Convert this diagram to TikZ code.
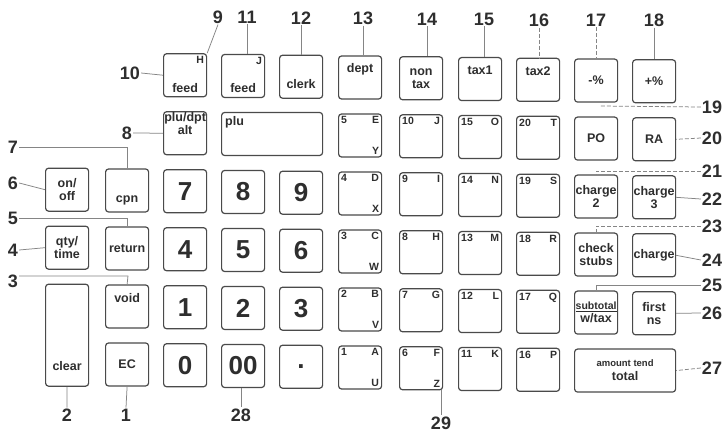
\documentclass[tikz,border=0pt]{standalone}
\usepackage{fontspec}
\setmainfont{Liberation Sans}
\definecolor{keyc}{HTML}{4A4A4A}
\definecolor{txt}{HTML}{2E2E2E}
\definecolor{leadc}{HTML}{858585}
\newcommand\keyfnt{\fontsize{12.5}{13}\selectfont\bfseries}
\newcommand\digfnt{\fontsize{26}{26}\selectfont\bfseries}
\newcommand\numfnt{\fontsize{18}{18}\selectfont\bfseries}
\newcommand\labfnt{\fontsize{10.5}{11}\selectfont\bfseries}
\tikzset{
  key/.style={draw=keyc, line width=1.2pt, rounded corners=3pt, minimum width=43pt,
    minimum height=43pt, inner sep=0pt, anchor=north west, font=\keyfnt, text=txt, align=center},
  dig/.style={key, font=\digfnt},
  lab/.style={font=\labfnt, text=txt, inner sep=3pt},
  kl/.style={font=\keyfnt, text=txt, inner sep=0pt},
  num/.style={font=\numfnt, text=txt, inner sep=1pt},
  lead/.style={draw=leadc, line width=0.75pt},
  leadd/.style={lead, dash pattern=on 4pt off 2pt},
  deptkey/.style n args={3}{key,
    label={[lab,anchor=north west]north west:#1},
    label={[lab,anchor=north east]north east:#2},
    label={[lab,anchor=south east]south east:#3}}
}
\begin{document}
\begin{tikzpicture}[x=1pt,y=-1pt]
\fill[white] (0,0) rectangle (726,437);
\useasboundingbox (0,0) rectangle (726,437);
\begin{scope}[yslant=-0.013]
% row 0
\node[key,label={[lab,anchor=north east]north east:H},label={[kl,anchor=south,inner sep=5pt]south:feed}] (hfeed) at (163,51) {};
\node[key,label={[lab,anchor=north east]north east:J},label={[kl,anchor=south,inner sep=5pt]south:feed}] (jfeed) at (221,51) {};
\node[key,label={[kl,anchor=south,inner sep=10pt]south:clerk}] (clerk) at (279,51) {};
\node[key] (dept) at (338,51) {dept\\[6pt]};
\node[key] (nontax) at (399,51) {non\\tax};
\node[key] (tax1) at (458,51) {tax1\\[4pt]};
\node[key] (tax2) at (516,51) {tax2\\[4pt]};
\node[key] (minus) at (574,51) {-\%};
\node[key] (plus) at (632,51) {+\%};
% row 1
\node[key] (plualt) at (163,109) {plu/dpt\\alt\\[6pt]};
\node[key,minimum width=101pt,label={[kl,anchor=north west,inner sep=4pt]north west:plu}] (plu) at (221,109) {};
\node[deptkey={5}{E}{Y}] (d5) at (338,109) {};
\node[deptkey={10}{J}{}] (d10) at (399,109) {};
\node[deptkey={15}{O}{}] (d15) at (458,109) {};
\node[deptkey={20}{T}{}] (d20) at (516,109) {};
\node[key] (po) at (574,109) {PO};
\node[key] (ra) at (632,109) {RA};
% row 2
\node[key] (onoff) at (45,167) {on/\\off};
\node[key,label={[kl,anchor=south,inner sep=7pt]south:cpn}] (cpn) at (105,167) {};
\node[dig] (k7) at (163,167) {7};
\node[dig] (k8) at (221,167) {8};
\node[dig] (k9) at (279,167) {9};
\node[deptkey={4}{D}{X}] (d4) at (338,167) {};
\node[deptkey={9}{I}{}] (d9) at (399,167) {};
\node[deptkey={14}{N}{}] (d14) at (458,167) {};
\node[deptkey={19}{S}{}] (d19) at (516,167) {};
\node[key] (ch2) at (574,167) {charge\\2};
\node[key] (ch3) at (632,167) {charge\\3};
% row 3
\node[key] (qty) at (45,225) {qty/\\time};
\node[key] (ret) at (105,225) {return};
\node[dig] (k4) at (163,225) {4};
\node[dig] (k5) at (221,225) {5};
\node[dig] (k6) at (279,225) {6};
\node[deptkey={3}{C}{W}] (d3) at (338,225) {};
\node[deptkey={8}{H}{}] (d8) at (399,225) {};
\node[deptkey={13}{M}{}] (d13) at (458,225) {};
\node[deptkey={18}{R}{}] (d18) at (516,225) {};
\node[key] (chk) at (574,225) {check\\stubs};
\node[key] (chg) at (632,225) {charge};
% row 4
\node[key,minimum height=102pt,label={[kl,anchor=south,inner sep=16pt]south:clear}] (clr) at (45,283) {};
\node[key] (void) at (105,283) {void\\[4pt]};
\node[dig] (k1) at (163,283) {1};
\node[dig] (k2) at (221,283) {2};
\node[dig] (k3) at (279,283) {3};
\node[deptkey={2}{B}{V}] (d2) at (338,283) {};
\node[deptkey={7}{G}{}] (d7) at (399,283) {};
\node[deptkey={12}{L}{}] (d12) at (458,283) {};
\node[deptkey={17}{Q}{}] (d17) at (516,283) {};
\node[key] (sub) at (574,283) {{\fontsize{10.5}{11}\selectfont\bfseries\underline{subtotal}}\\w/tax};
\node[key] (fns) at (632,283) {first\\ns};
% row 5
\node[key] (ec) at (105,341) {EC};
\node[dig] (k0) at (163,341) {0};
\node[dig] (k00) at (221,341) {00};
\node[dig] (kdot) at (279,341) {.};
\node[deptkey={1}{A}{U}] (d1) at (338,341) {};
\node[deptkey={6}{F}{Z}] (d6) at (399,341) {};
\node[deptkey={11}{K}{}] (d11) at (458,341) {};
\node[deptkey={16}{P}{}] (d16) at (516,341) {};
\node[key,minimum width=101pt] (tot) at (574,341) {{\fontsize{9.5}{10}\selectfont\bfseries amount tend}\\[1pt]total};
\end{scope}
% number labels
\node[num] (n9) at (218,17) {9};
\node[num] (n11) at (247,17) {11};
\node[num] (n12) at (301,18) {12};
\node[num] (n13) at (363,18) {13};
\node[num] (n14) at (427,19) {14};
\node[num] (n15) at (484,19) {15};
\node[num] (n16) at (539,20) {16};
\node[num] (n17) at (596,20) {17};
\node[num] (n18) at (654,20) {18};
\node[num] (n10) at (130,73) {10};
\node[num] (n8) at (127,133) {8};
\node[num] (n7) at (13,147) {7};
\node[num] (n6) at (13,183) {6};
\node[num] (n5) at (13,218) {5};
\node[num] (n4) at (13,250) {4};
\node[num] (n3) at (13,281) {3};
\node[num] (n2) at (67,415) {2};
\node[num] (n1) at (126,415) {1};
\node[num] (n28) at (241,415) {28};
\node[num] (n29) at (441,423) {29};
\node[num] (n19) at (712,107) {19};
\node[num] (n20) at (712,138) {20};
\node[num] (n21) at (712,171) {21};
\node[num] (n22) at (712,199) {22};
\node[num] (n23) at (712,226) {23};
\node[num] (n24) at (712,260) {24};
\node[num] (n25) at (712,285) {25};
\node[num] (n26) at (712,313) {26};
\node[num] (n27) at (712,368) {27};
\coordinate (c19) at (600,106);
\coordinate (c3) at (128,276);
% leaders top
\draw[lead] (n9.south) -- (hfeed.north east);
\draw[lead] (n11.south) -- (n11.south |- jfeed.north);
\draw[lead] (n12.south) -- (n12.south |- clerk.north);
\draw[lead] (n13.south) -- (n13.south |- dept.north);
\draw[lead] (n14.south) -- (n14.south |- nontax.north);
\draw[lead] (n15.south) -- (n15.south |- tax1.north);
\draw[leadd] (n16.south) -- (n16.south |- tax2.north);
\draw[leadd] (n17.south) -- (n17.south |- minus.north);
\draw[lead] (n18.south) -- (n18.south |- plus.north);
% leaders left
\draw[lead] (n10.east) -- (hfeed.west);
\draw[lead] (n8.east) -- (plualt.west);
\draw[lead] (n7.east) -| (cpn.north);
\draw[lead] (n6.east) -- (onoff.west);
\draw[lead] (n5.east) -| (ret.north);
\draw[lead] (n4.east) -- (qty.west);
\draw[lead] (n3.north east |- c3) -- (c3) -- (void.north);
% leaders bottom
\draw[lead] (clr.south) -- (n2.north);
\draw[lead] (ec.south) -- (n1.north);
\draw[lead] (n28.north |- k00.south) -- (n28.north);
\draw[lead] (n29.north |- d6.south) -- (n29.north);
% leaders right
\draw[leadd] (n19.west) -- (c19);
\draw[leadd] (n20.west) -- (ra.east);
\draw[leadd] (n21.west) -| (ch2.north);
\draw[lead] (n22.west) -- (ch3.east);
\draw[leadd] (n23.west) -| (chk.north);
\draw[lead] (n24.west) -- (chg.east);
\draw[lead] (n25.west) -| (sub.north);
\draw[lead] (n26.west) -- (fns.east);
\draw[leadd] (n27.west) -- (tot.east);
\end{tikzpicture}
\end{document}
